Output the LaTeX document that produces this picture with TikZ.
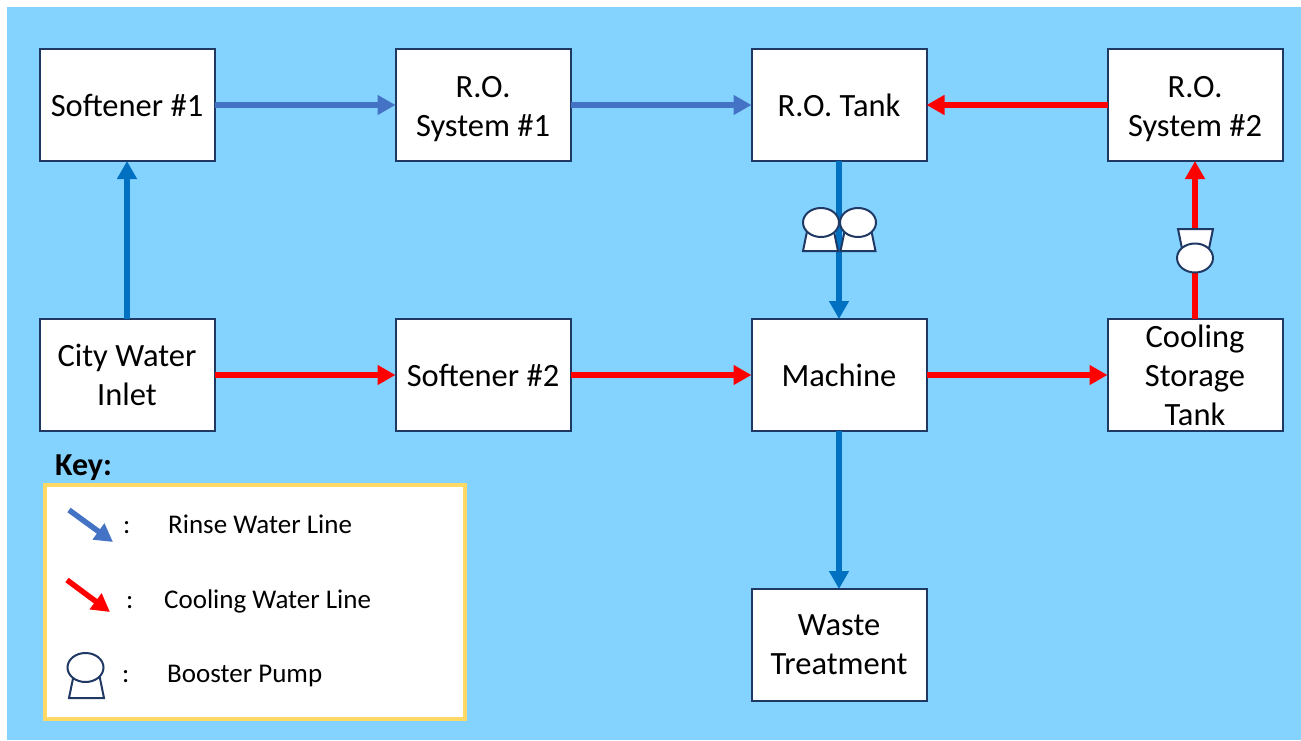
\documentclass[tikz,border=0pt]{standalone}
\usepackage{fontspec}
\setmainfont{Carlito}
\usetikzlibrary{positioning,arrows.meta,shapes.geometric}
\definecolor{skyback}{HTML}{84D3FF}
\definecolor{boxline}{HTML}{1F3864}
\definecolor{rinse}{HTML}{4472C4}
\definecolor{pipe}{HTML}{0070C0}
\definecolor{keygold}{HTML}{FFD966}
\tikzset{
  unit/.style={draw=boxline,line width=2pt,fill=white,minimum width=175pt,minimum height=112pt,
    align=center,font=\fontsize{32.5}{39}\selectfont,inner sep=0pt,outer sep=0pt},
  line/.style={line width=5.5pt,-{Triangle[length=18pt,width=19pt]}},
  pumphead/.style={ellipse,draw=boxline,line width=2pt,fill=white,minimum width=36pt,minimum height=29pt,inner sep=0pt,outer sep=0pt},
  pumpfoot/.pic={\draw[boxline,line width=2pt,fill=white] (-13,-11) -- (13,-11) -- (17.5,11) -- (-17.5,11) -- cycle;},
  keytext/.style={font=\fontsize{27}{28}\selectfont,anchor=base west,inner sep=0pt},
}
\begin{document}
\begin{tikzpicture}[x=1pt,y=-1pt,node distance=158pt and 181pt]
\useasboundingbox (0,0) rectangle (1301,740);
\fill[skyback] (7,7) rectangle (1301,740);
\node[unit] (S1) at (127,105) {Softener \#1};
\node[unit] (R1) [right=of S1] {\rule{0pt}{30pt}R.O.\\System \#1};
\node[unit] (T) [right=of R1] {R.O. Tank};
\node[unit] (R2) [right=of T] {\rule{0pt}{30pt}R.O.\\System \#2};
\node[unit] (C) [below=of S1] {City Water\\Inlet};
\node[unit] (S2) [below=of R1] {Softener \#2};
\node[unit] (M) [below=of T] {Machine};
\node[unit] (K) [below=of R2] {Cooling\\Storage\\Tank};
\node[unit] (W) [below=of M] {Waste\\Treatment};
\draw [line,pipe] (C) -- (S1);
\draw [line,rinse] (S1) -- (R1);
\draw [line,rinse] (R1) -- (T);
\draw [line,red] (R2) -- (T);
\draw [line,pipe] (T) -- (M);
\draw [line,red] (K) -- (R2);
\draw [line,red] (C) -- (S2);
\draw [line,red] (S2) -- (M);
\draw [line,red] (M) -- (K);
\draw [line,pipe] (M) -- (W);
% pumps
\pic at (820.5,240) {pumpfoot};
\node[pumphead] (H1) at (821,222.5) {};
\pic at (858,240) {pumpfoot};
\node[pumphead] (H2) at (858,222.5) {};
\pic[yscale=-1] at (1195.5,240) {pumpfoot};
\node[pumphead] (H3) at (1195,258) {};
% key
\node[font=\fontsize{32}{34}\selectfont\bfseries,anchor=base west,inner sep=0pt] (KT) at (55,475) {Key:};
\node[draw=keygold,line width=4pt,fill=white,minimum width=420pt,minimum height=234pt,inner sep=0pt] (KB) at (255,602) {};
\coordinate (A1) at (69,510);
\coordinate (A2) at (113,542);
\coordinate (A3) at (67,580);
\coordinate (A4) at (110,612);
\draw [line,rinse] (A1) -- (A2);
\draw [line,red] (A3) -- (A4);
\pic at (86.5,687) {pumpfoot};
\node[pumphead] (H4) at (85.5,667.5) {};
\node[keytext] (C1) at (123,533) {:};
\node[keytext] (C2) at (126,608) {:};
\node[keytext] (C3) at (122,682) {:};
\node[keytext] (L1) at (168,533) {Rinse Water Line};
\node[keytext] (L2) at (164,608) {Cooling Water Line};
\node[keytext] (L3) at (167,682) {Booster Pump};
\end{tikzpicture}
\end{document}
